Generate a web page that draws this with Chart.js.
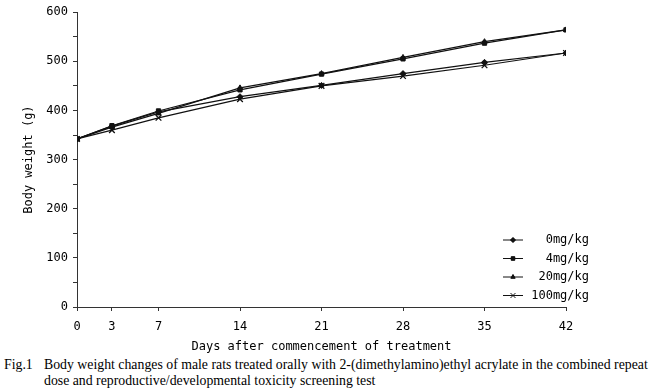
<!DOCTYPE html>
<html>
<head>
<meta charset="utf-8">
<script src="https://cdn.jsdelivr.net/npm/chart.js@4"></script>
<style>
  body { margin: 0; background: #fff; }
  #wrap { position: relative; width: 655px; height: 355px; }
  .caption {
    display: flex;
    font-family: "Liberation Serif", "DejaVu Serif", serif;
    font-size: 13.8px;
    line-height: 16px;
    color: #000;
    margin-top: 2px;
    padding-left: 4px;
    white-space: nowrap;
  }
  .caption .num { width: 40px; flex: none; }
</style>
</head>
<body>
<div id="wrap"><canvas id="grafico" width="655" height="355"></canvas></div>
<div class="caption">
  <div class="num">Fig.1</div>
  <div>Body weight changes of male rats treated orally with 2-(dimethylamino)ethyl acrylate in the combined repeat<br>dose and reproductive/developmental toxicity screening test</div>
</div>
<script>
// ============================
// Dados
// ============================
const dias = [0, 3, 7, 14, 21, 28, 35, 42];
const rotulos = ["0mg/kg", "4mg/kg", "20mg/kg", "100mg/kg"];
const g0 = [342, 368, 397, 428, 451, 475, 498, 517];
const g4 = [342, 369, 399, 442, 474, 505, 537, 564];
const g20 = [342, 366, 394, 446, 475, 508, 540, 564];
const g100 = [342, 360, 385, 423, 450, 470, 492, 517];
const marcadores = ["rectRot", "rect", "triangle", "crossRot"];

const fonteMono = "'DejaVu Sans Mono', 'Liberation Mono', monospace";

function serie(valores) {
  return dias.map((d, i) => ({ x: d, y: valores[i] }));
}

const series = [g0, g4, g20, g100];

const datasets = series.map((v, i) => ({
  label: rotulos[i],
  data: serie(v),
  borderColor: "#111",
  backgroundColor: "#111",
  borderWidth: 1.2,
  pointStyle: marcadores[i],
  pointRadius: marcadores[i] === "crossRot" ? 4 : 3,
  pointBorderWidth: marcadores[i] === "crossRot" ? 1.3 : 1,
  tension: 0
}));

// legenda desenhada dentro da área do gráfico
const legendaPlugin = {
  id: "legendaInterna",
  afterDraw(chart) {
    const ctx = chart.ctx;
    ctx.save();
    ctx.font = "12px " + fonteMono;
    ctx.fillStyle = "#000";
    ctx.strokeStyle = "#111";
    ctx.textAlign = "right";
    ctx.textBaseline = "middle";
    rotulos.forEach((r, i) => {
      const y = 240 + i * 18.5;
      ctx.lineWidth = 1;
      ctx.beginPath();
      ctx.moveTo(503, y);
      ctx.lineTo(523, y);
      ctx.stroke();
      Chart.helpers.drawPoint(ctx, {
        pointStyle: marcadores[i],
        radius: marcadores[i] === "crossRot" ? 3.5 : 2.5,
        borderWidth: 1
      }, 513, y);
      ctx.fillStyle = "#111";
      ctx.fill();
      ctx.fillStyle = "#000";
      ctx.fillText(r, 589, y);
    });
    ctx.restore();
  }
};

const config = {
  type: "line",
  data: { datasets },
  options: {
    responsive: false,
    animation: false,
    layout: { padding: { top: 9, right: 89, left: 0, bottom: 0 } },
    plugins: { legend: { display: false }, tooltip: { enabled: false } },
    scales: {
      x: {
        type: "linear",
        min: 0,
        max: 42,
        afterBuildTicks: (s) => { s.ticks = dias.map(d => ({ value: d })); },
        afterFit: (s) => { s.height = 48; },
        border: { color: "#333", width: 1 },
        grid: { drawOnChartArea: false, tickLength: 4, color: "#333" },
        ticks: { color: "#000", font: { family: fonteMono, size: 12 }, padding: 9, maxRotation: 0 },
        title: {
          display: true,
          text: "Days after commencement of treatment",
          color: "#000",
          font: { family: fonteMono, size: 12 },
          padding: { top: 5, bottom: 1 }
        }
      },
      y: {
        min: 0,
        max: 600,
        afterFit: (s) => { s.width = 77; },
        border: { color: "#333", width: 1 },
        grid: { drawOnChartArea: false, tickLength: 4, color: "#333" },
        ticks: {
          stepSize: 50,
          color: "#000",
          font: { family: fonteMono, size: 12 },
          padding: 5,
          callback: (v) => (v % 100 === 0 ? v : "")
        },
        title: {
          display: true,
          text: "Body weight (g)",
          color: "#000",
          font: { family: fonteMono, size: 12 },
          padding: { top: 22, bottom: 0 }
        }
      }
    }
  },
  plugins: [legendaPlugin]
};

new Chart(document.getElementById("grafico").getContext("2d"), config);
</script>
</body>
</html>
